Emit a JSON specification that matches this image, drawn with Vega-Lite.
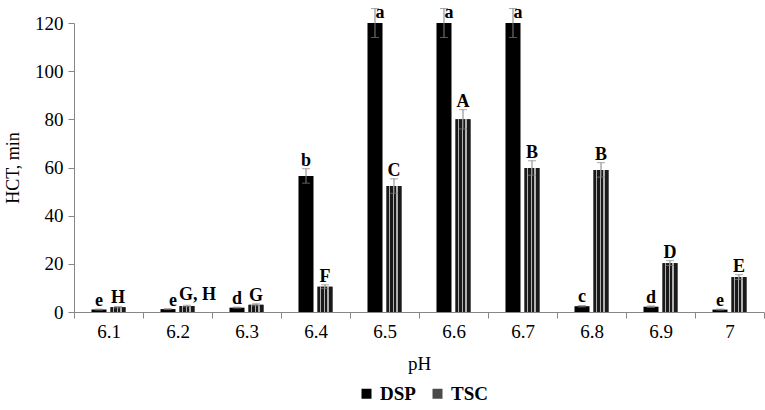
{
  "$schema": "https://vega.github.io/schema/vega-lite/v6.json",
  "width": 690,
  "height": 289,
  "autosize": "none",
  "padding": {"left": 74, "top": 23, "right": 1, "bottom": 98},
  "background": "white",
  "config": {
    "view": {"stroke": null},
    "font": "Liberation Serif",
    "axis": {
      "domainColor": "#868686",
      "tickColor": "#868686",
      "tickSize": 6,
      "labelFont": "Liberation Serif",
      "labelFontSize": 19,
      "labelColor": "#000000",
      "titleFont": "Liberation Serif",
      "titleFontSize": 19,
      "titleFontWeight": "normal",
      "titleColor": "#000000",
      "grid": false
    }
  },
  "data": {
    "values": [
      {"pH": "6.1", "group": "DSP", "mean": 1.0, "err": 0.2, "label": "e"},
      {"pH": "6.1", "group": "TSC", "mean": 2.0, "err": 0.3, "label": "H"},
      {"pH": "6.2", "group": "DSP", "mean": 1.2, "err": 0.2, "label": "e"},
      {"pH": "6.2", "group": "TSC", "mean": 2.5, "err": 0.3, "label": "G, H"},
      {"pH": "6.3", "group": "DSP", "mean": 1.8, "err": 0.2, "label": "d"},
      {"pH": "6.3", "group": "TSC", "mean": 3.0, "err": 0.4, "label": "G"},
      {"pH": "6.4", "group": "DSP", "mean": 56.5, "err": 3, "label": "b"},
      {"pH": "6.4", "group": "TSC", "mean": 10.5, "err": 0.8, "label": "F"},
      {"pH": "6.5", "group": "DSP", "mean": 120, "err": 6, "label": "a"},
      {"pH": "6.5", "group": "TSC", "mean": 52.3, "err": 3, "label": "C"},
      {"pH": "6.6", "group": "DSP", "mean": 120, "err": 6, "label": "a"},
      {"pH": "6.6", "group": "TSC", "mean": 80, "err": 4, "label": "A"},
      {"pH": "6.7", "group": "DSP", "mean": 120, "err": 6, "label": "a"},
      {"pH": "6.7", "group": "TSC", "mean": 59.8, "err": 3, "label": "B"},
      {"pH": "6.8", "group": "DSP", "mean": 2.4, "err": 0.3, "label": "c"},
      {"pH": "6.8", "group": "TSC", "mean": 59, "err": 3, "label": "B"},
      {"pH": "6.9", "group": "DSP", "mean": 2.2, "err": 0.3, "label": "d"},
      {"pH": "6.9", "group": "TSC", "mean": 20.3, "err": 1, "label": "D"},
      {"pH": "7", "group": "DSP", "mean": 1.0, "err": 0.2, "label": "e"},
      {"pH": "7", "group": "TSC", "mean": 14.5, "err": 1, "label": "E"}
    ]
  },
  "transform": [
    {"calculate": "datum.mean + datum.err", "as": "hi"},
    {"calculate": "datum.mean - datum.err", "as": "lo"},
    {"calculate": "min(datum.mean + datum.err, 121)", "as": "ly"}
  ],
  "encoding": {
    "x": {
      "field": "pH",
      "type": "nominal",
      "title": "pH",
      "scale": {"paddingInner": 0, "paddingOuter": 0},
      "axis": {"labelAngle": 0, "tickBand": "extent", "labelPadding": 4, "titlePadding": 13, "labelFont": "Liberation Serif", "titleFont": "Liberation Serif"}
    },
    "xOffset": {
      "field": "group",
      "type": "nominal",
      "scale": {"paddingInner": 0.21, "paddingOuter": 0.92}
    }
  },
  "layer": [
    {
      "mark": {"type": "bar"},
      "encoding": {
        "y": {
          "field": "mean",
          "type": "quantitative",
          "title": "HCT, min",
          "scale": {"domain": [0, 120], "nice": false},
          "axis": {"values": [0, 20, 40, 60, 80, 100, 120], "labelPadding": 5, "titlePadding": 12, "titleFontSize": 18, "labelFont": "Liberation Serif", "titleFont": "Liberation Serif"}
        },
        "color": {
          "field": "group",
          "type": "nominal",
          "scale": {"domain": ["DSP", "TSC"], "range": ["#000000", "#4a4a4a"]},
          "legend": {
            "orient": "none",
            "legendX": 283,
            "legendY": 361,
            "direction": "horizontal",
            "title": null,
            "symbolType": "square",
            "symbolSize": 100,
            "symbolStrokeWidth": 0,
            "labelFont": "Liberation Serif",
            "labelFontSize": 19,
            "labelFontWeight": "bold",
            "labelColor": "#000000",
            "labelOffset": 4,
            "columnPadding": 12,
            "padding": 0
          }
        }
      }
    },
    {
      "transform": [{"filter": "datum.group === 'TSC'"}],
      "mark": {
        "type": "bar",
        "color": {
          "gradient": "linear",
          "x1": 0, "y1": 0, "x2": 1, "y2": 0,
          "stops": [
            {"offset": 0, "color": "#1a1a1a"},
            {"offset": 0.16, "color": "#1a1a1a"},
            {"offset": 0.16, "color": "#b0b0b0"},
            {"offset": 0.24, "color": "#b0b0b0"},
            {"offset": 0.24, "color": "#1a1a1a"},
            {"offset": 0.41, "color": "#1a1a1a"},
            {"offset": 0.41, "color": "#b0b0b0"},
            {"offset": 0.49, "color": "#b0b0b0"},
            {"offset": 0.49, "color": "#1a1a1a"},
            {"offset": 0.66, "color": "#1a1a1a"},
            {"offset": 0.66, "color": "#b0b0b0"},
            {"offset": 0.74, "color": "#b0b0b0"},
            {"offset": 0.74, "color": "#1a1a1a"},
            {"offset": 1, "color": "#1a1a1a"}
          ]
        }
      },
      "encoding": {
        "y": {"field": "mean", "type": "quantitative", "title": "HCT, min"}
      }
    },
    {
      "mark": {"type": "rule", "color": "#808080", "strokeWidth": 1},
      "encoding": {
        "y": {"field": "lo", "type": "quantitative", "title": "HCT, min"},
        "y2": {"field": "hi"}
      }
    },
    {
      "mark": {"type": "tick", "color": "#808080", "size": 8, "thickness": 1},
      "encoding": {"y": {"field": "hi", "type": "quantitative", "title": "HCT, min"}}
    },
    {
      "mark": {"type": "tick", "color": "#808080", "size": 8, "thickness": 1},
      "encoding": {"y": {"field": "lo", "type": "quantitative", "title": "HCT, min"}}
    },
    {
      "transform": [{"filter": "datum.pH !== '6.2' && datum.label !== 'a'"}],
      "mark": {"type": "text", "font": "Liberation Serif", "fontSize": 18, "fontWeight": "bold", "baseline": "alphabetic", "dy": -3, "color": "#000000"},
      "encoding": {
        "y": {"field": "ly", "type": "quantitative", "title": "HCT, min"},
        "text": {"field": "label"}
      }
    },
    {
      "transform": [{"filter": "datum.label === 'a' || (datum.pH === '6.2' && datum.group === 'DSP')"}],
      "mark": {"type": "text", "font": "Liberation Serif", "fontSize": 18, "fontWeight": "bold", "baseline": "alphabetic", "dy": -3, "dx": 5, "color": "#000000"},
      "encoding": {
        "y": {"field": "ly", "type": "quantitative", "title": "HCT, min"},
        "text": {"field": "label"}
      }
    },
    {
      "transform": [{"filter": "datum.pH === '6.2' && datum.group === 'TSC'"}],
      "mark": {"type": "text", "font": "Liberation Serif", "fontSize": 18, "fontWeight": "bold", "baseline": "alphabetic", "align": "left", "dy": -5, "dx": -8, "color": "#000000"},
      "encoding": {
        "y": {"field": "ly", "type": "quantitative", "title": "HCT, min"},
        "text": {"field": "label"}
      }
    }
  ]
}
